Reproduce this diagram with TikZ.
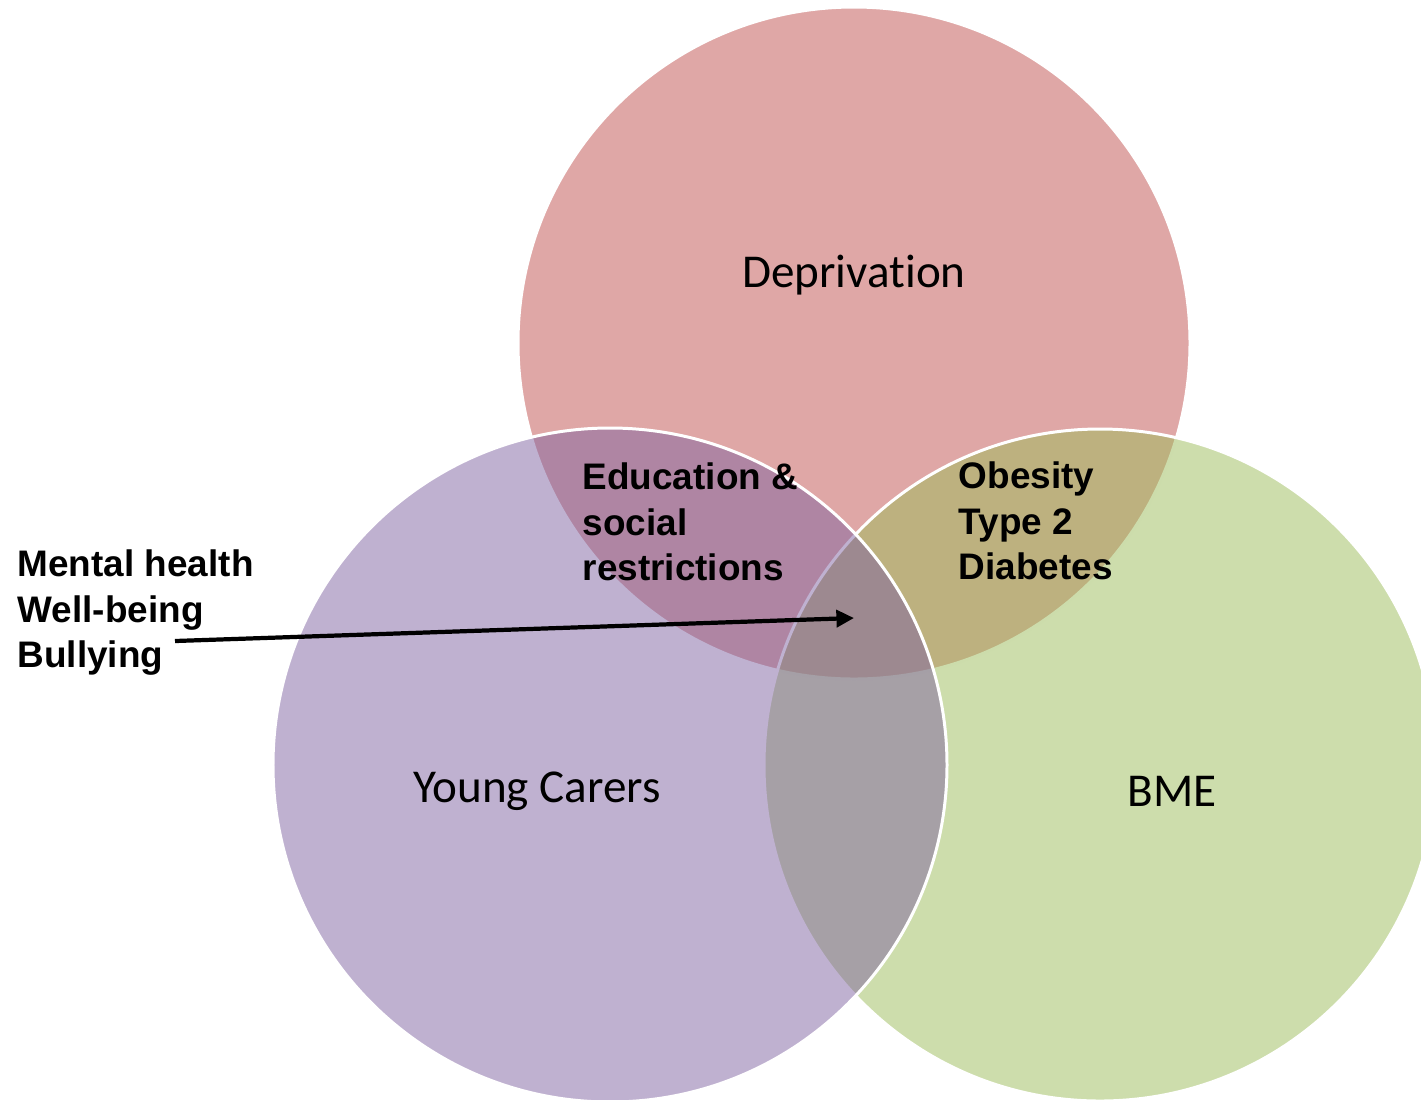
\documentclass[tikz,border=0pt]{standalone}
\usepackage{fontspec}
\setmainfont{Carlito}[Ligatures=NoCommon]
\newfontfamily\labelfont{Liberation Sans}
\usetikzlibrary{arrows.meta}
\definecolor{deprred}{HTML}{C0504D}
\definecolor{bmegreen}{HTML}{9BBB59}
\definecolor{carerpurple}{HTML}{8064A2}

\begin{document}
\begin{tikzpicture}%
        [x=0.01cm, y=-0.01cm,
        set/.style={draw=white, line width=0.85pt, fill opacity=0.5},
        setname/.style={font=\fontsize{13.4}{16}\selectfont, inner sep=0pt, anchor=base},
        issue/.style={font=\labelfont\bfseries\fontsize{10.5}{12.8}\selectfont, align=left, inner sep=0pt, anchor=base west},
        pointer/.style={-{Triangle[length=5pt,width=4.8pt]}, line width=1.2pt}]
    %
    %% Page
    \useasboundingbox (0,0) rectangle (1421,1099);
    %%
    %% Drawing the sets
    %%
    \draw[set, fill=deprred] (854,343) circle (336);
    \draw[set, fill=bmegreen] (1100,765) circle (336);
    \draw[set, fill=carerpurple] (610,765) circle (337);
    %%
    %% Names of the sets
    %%
    \node[setname] (depr) at (854,287) {Deprivation};
    \node[setname] (carers) at (537,802) {Young Carers};
    \node[setname] (bme) at (1172,806) {BME};
    %%
    %% Overlaps (base is the last line)
    %%
    \node[issue] (edu) at (582,580) {Education \&\\social\\restrictions};
    \node[issue] (obesity) at (958,579) {Obesity\\Type 2\\Diabetes};
    \node[issue] (mental) at (17,667) {Mental health\\Well-being\\Bullying};
    %%
    %% Pointer to the centre
    %%
    \coordinate (tail) at (175,641);
    \coordinate (tip) at (854,618);
    \draw[pointer] (tail) -- (tip);
    %%
\end{tikzpicture}
\end{document}
